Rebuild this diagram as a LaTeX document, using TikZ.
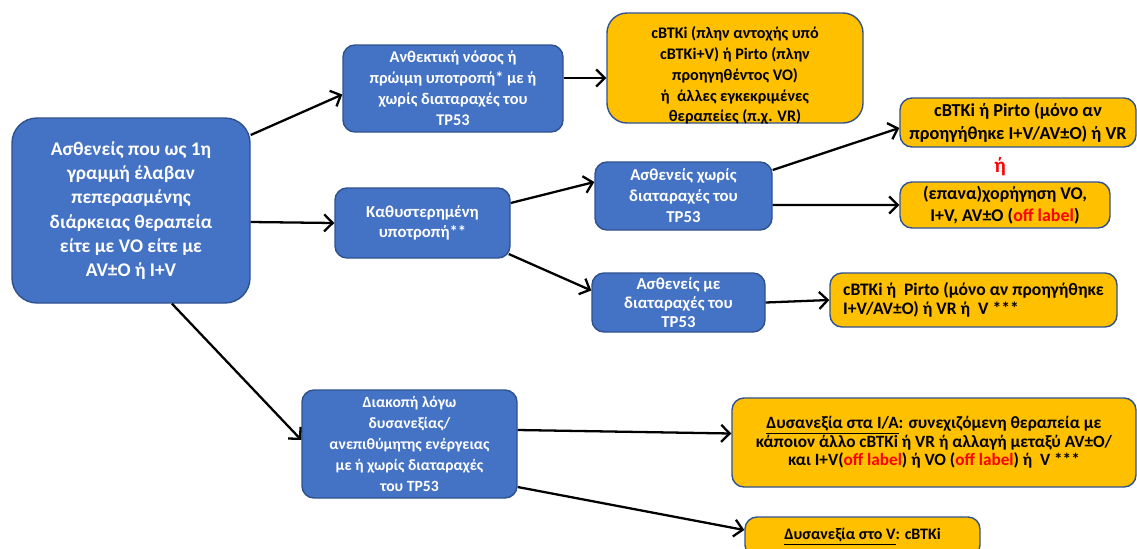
\documentclass[tikz,border=0pt]{standalone}
\usepackage{fontspec}
\setmainfont{Carlito}
\usetikzlibrary{arrows.meta}
\definecolor{boxblue}{HTML}{4472C4}
\definecolor{boxline}{HTML}{2F528F}
\definecolor{boxyellow}{HTML}{FFC000}
\definecolor{offred}{HTML}{FF0000}
\newcommand{\offlabel}{\textcolor{offred}{off label}}
\tikzset{
  basebox/.style={draw=boxline, line width=0.8pt, rounded corners=0.24cm,
    align=center, inner sep=0pt, font=\bfseries\fontsize{8.8}{11.8}\selectfont},
  bluebox/.style={basebox, fill=boxblue, text=white},
  yellowbox/.style={basebox, fill=boxyellow, text=black},
  link/.style={line width=1.3pt, -{Straight Barb[length=1.7mm,width=3.4mm,line width=1.3pt]}}
}
\begin{document}
\begin{tikzpicture}
\useasboundingbox (0,0) rectangle (22.74,-10.96);

% left-hand entry box
\node[bluebox, rounded corners=0.5cm, minimum width=4.76cm, minimum height=3.70cm,
      font=\bfseries\fontsize{11}{13.8}\selectfont] (main) at (2.62,-4.21)
  {Ασθενείς που ως 1η\\γραμμή έλαβαν\\πεπερασμένης\\διάρκειας θεραπεία\\είτε με VO είτε με\\AV±O ή I+V};

% second column
\node[bluebox, minimum width=4.40cm, minimum height=1.74cm,
      font=\bfseries\fontsize{9.3}{11.9}\selectfont] (anth) at (9.06,-1.77)
  {Ανθεκτική νόσος ή\\πρώιμη υποτροπή* με ή\\χωρίς διαταραχές του\\TP53};
\node[bluebox, minimum width=3.50cm, minimum height=1.40cm,
      font=\bfseries\fontsize{9.5}{11.4}\selectfont] (kath) at (8.45,-4.46)
  {Καθυστερημένη\\υποτροπή**};
\node[bluebox, minimum width=4.30cm, minimum height=2.16cm,
      font=\bfseries\fontsize{8.9}{11.9}\selectfont] (diak) at (8.19,-8.88)
  {Διακοπή λόγω\\δυσανεξίας/\\ανεπιθύμητης ενέργειας\\με ή χωρίς διαταραχές\\του TP53};

% third column (the text of the top box sits a little below its centre)
\node[yellowbox, rounded corners=0.4cm, minimum width=5.12cm, minimum height=2.20cm] (ytop) at (14.70,-1.36) {};
\node[font=\bfseries\fontsize{9.2}{11.9}\selectfont, align=center, inner sep=0pt] (ytoptext)
  at ([yshift=-0.15cm]ytop.center)
  {cBTKi (πλην αντοχής υπό\\cBTKi+V) ή Pirto (πλην\\προηγηθέντος VO)\\ή\ \ άλλες εγκεκριμένες\\θεραπείες (π.χ. VR)};
\node[bluebox, minimum width=3.54cm, minimum height=1.36cm,
      font=\bfseries\fontsize{9.5}{11.9}\selectfont] (asx) at (13.67,-3.92)
  {Ασθενείς χωρίς\\διαταραχές του\\TP53};
\node[bluebox, minimum width=3.46cm, minimum height=1.18cm,
      font=\bfseries\fontsize{9.5}{11}\selectfont] (asm) at (13.57,-6.05)
  {Ασθενείς με\\διαταραχές του\\TP53};

% right-hand treatment boxes
\node[yellowbox, minimum width=4.72cm, minimum height=0.98cm,
      font=\bfseries\fontsize{10.4}{13}\selectfont] (y6) at (20.36,-2.45)
  {cBTKi ή Pirto (μόνο αν\\προηγήθηκε I+V/AV±O) ή VR};
\node[text=offred, font=\bfseries\fontsize{12}{14}\selectfont, inner sep=0pt] (or) at (20.0,-3.34) {ή};
\node[yellowbox, minimum width=4.20cm, minimum height=0.92cm,
      font=\bfseries\fontsize{10.2}{12.4}\selectfont] (y8) at (20.10,-4.10)
  {(επανα)χορήγηση VO,\\I+V, AV±O (\offlabel)};
\node[yellowbox, align=left, minimum width=5.74cm, minimum height=1.08cm,
      font=\bfseries\fontsize{10}{11}\selectfont] (y10) at (19.47,-6.00)
  {cBTKi ή\ \ Pirto (μόνο αν προηγήθηκε\\I+V/AV±O) ή VR ή\ \ V ***};
\node[yellowbox, minimum width=8.08cm, minimum height=1.78cm,
      font=\bfseries\fontsize{9.8}{10.6}\selectfont] (y12) at (18.68,-8.85)
  {\underline{Δυσανεξία στα I/A}: συνεχιζόμενη θεραπεία με\\κάποιον άλλο cBTKi ή VR ή αλλαγή μεταξύ AV±O/\\και I+V(\offlabel) ή VO (\offlabel) ή\ \ V ***};
\node[yellowbox, minimum width=4.70cm, minimum height=0.80cm,
      font=\bfseries\fontsize{9.1}{11}\selectfont] (y13) at (17.25,-10.74)
  {\underline{Δυσανεξία στο V}: cBTKi};

% connectors
\draw[link] ([yshift=1.51cm]main.east) -- ([yshift=-0.12cm]anth.west);
\draw[link] ([yshift=0.21cm]anth.east) -- ([yshift=-0.20cm]ytop.west);
\draw[link] ([yshift=-0.23cm]main.east) -- (kath.west);
\draw[link] ([yshift=0.40cm]kath.east) -- ([yshift=0.28cm]asx.west);
\draw[link] ([shift={(-0.04cm,-0.62cm)}]kath.east) -- ([yshift=0.24cm]asm.west);
\draw[link] ([yshift=0.52cm]asx.east) -- ([yshift=-0.11cm]y6.west);
\draw[link] ([yshift=-0.18cm]asx.east) -- (y8.west);
\draw[link] (asm.east) -- (y10.west);
\draw[link] ([xshift=0.82cm]main.south) -- ([yshift=0.08cm]diak.west);
\draw[link] ([yshift=0.28cm]diak.east) -- ([yshift=0.18cm]y12.west);
\draw[link] ([yshift=-0.86cm]diak.east) -- ([yshift=0.14cm]y13.west);
\end{tikzpicture}
\end{document}
